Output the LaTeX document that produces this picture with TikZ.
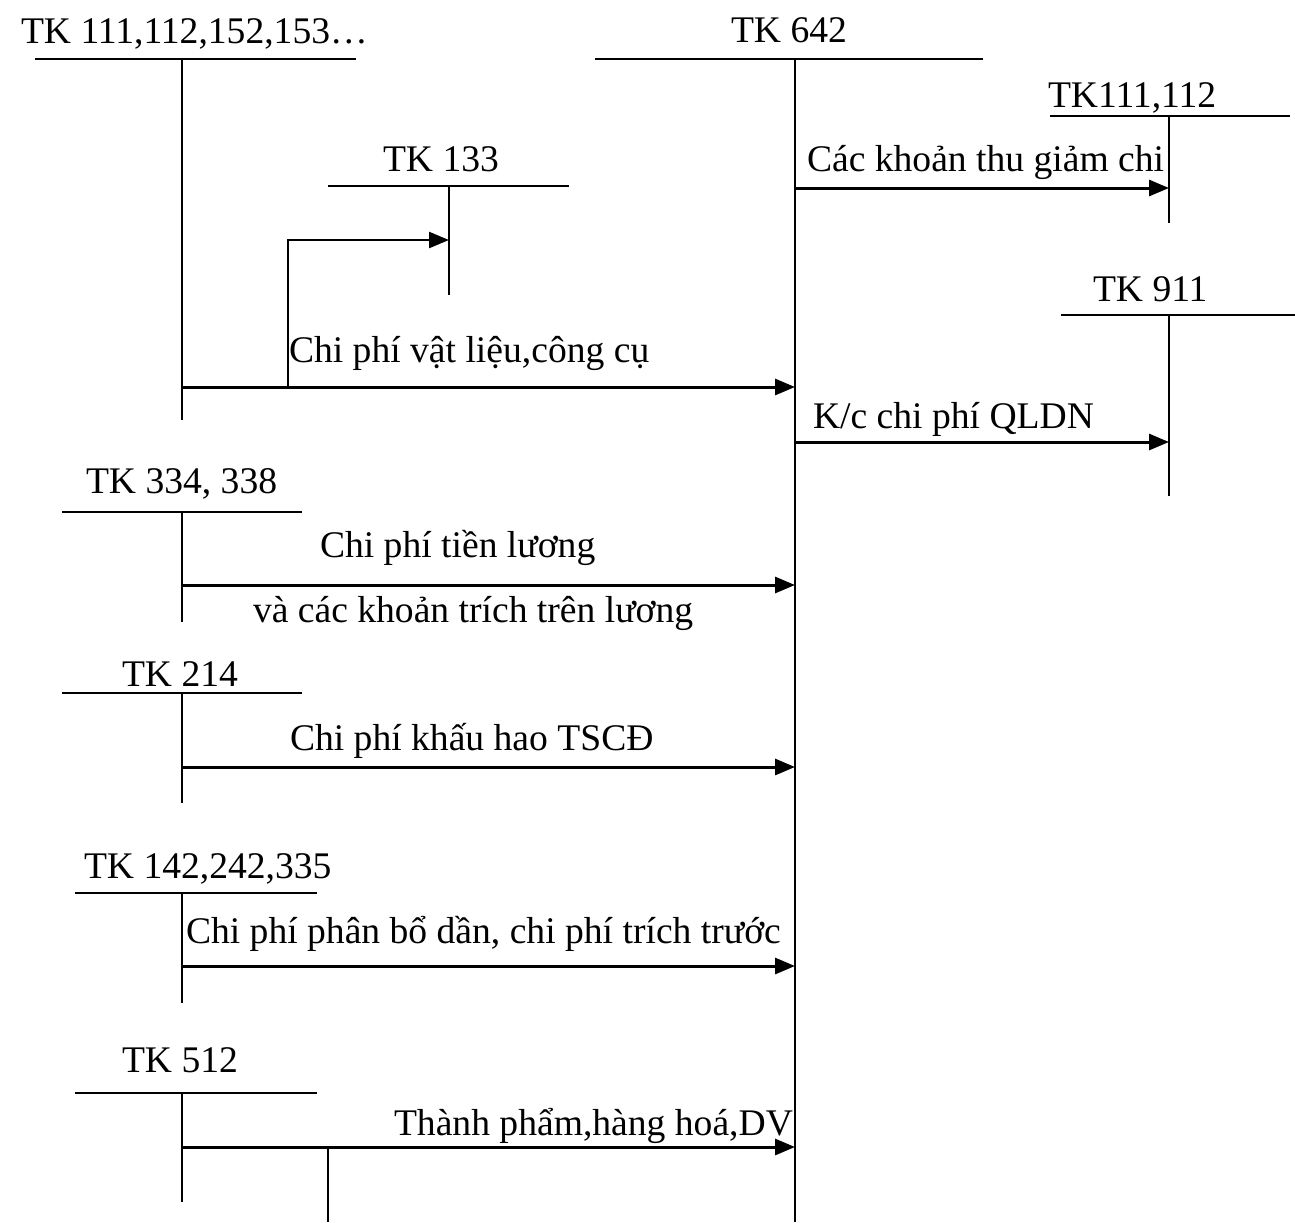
\documentclass[tikz,border=0pt]{standalone}
\usepackage{fontspec}
\setmainfont{Liberation Serif}
\usetikzlibrary{arrows.meta}
\tikzset{
  acct/.style={line width=1.2pt},
  flow/.style={line width=1.5pt,-{Triangle[length=10pt,width=8pt]}},
  lbl/.style={inner sep=0pt,outer sep=0pt,anchor=base west,font=\fontsize{18.8}{23}\selectfont}
}
\begin{document}
\begin{tikzpicture}[x=0.5pt,y=-0.5pt]
\useasboundingbox (0,0) rectangle (1295,1222);
% ---- account headings
\node[lbl] (t111) at (21,43) {TK 111,112,152,153…};
\node[lbl] (t642) at (731,42) {TK 642};
\node[lbl] (t111b) at (1048,107) {TK111,112};
\node[lbl] (t133) at (383,171) {TK 133};
\node[lbl] (t911) at (1093,301) {TK 911};
\node[lbl] (t334) at (86,493) {TK 334, 338};
\node[lbl] (t214) at (122,686) {TK 214};
\node[lbl] (t142) at (84,878) {TK 142,242,335};
\node[lbl] (t512) at (122,1072) {TK 512};
% ---- flow labels
\node[lbl] (l1) at (807,171) {Các khoản thu giảm chi};
\node[lbl] (l2) at (289,362) {Chi phí vật liệu,công cụ};
\node[lbl] (l3) at (813,428) {K/c chi phí QLDN};
\node[lbl] (l4) at (320,557) {Chi phí tiền lương};
\node[lbl] (l5) at (253,622) {và các khoản trích trên lương};
\node[lbl] (l6) at (290,750) {Chi phí khấu hao TSCĐ};
\node[lbl] (l7) at (186,943) {Chi phí phân bổ dần, chi phí trích trước};
\node[lbl] (l8) at (394,1135) {Thành phẩm,hàng hoá,DV};
% ---- T-account coordinates
\coordinate (a111) at (182,59);   \coordinate (a111e) at (182,420);
\coordinate (a642) at (795,59);   \coordinate (a642e) at (795,1222);
\coordinate (a111b) at (1169,116);\coordinate (a111be) at (1169,223);
\coordinate (a133) at (449,186);  \coordinate (a133e) at (449,295);
\coordinate (a911) at (1169,315); \coordinate (a911e) at (1169,496);
\coordinate (a334) at (182,512);  \coordinate (a334e) at (182,622);
\coordinate (a214) at (182,693);  \coordinate (a214e) at (182,803);
\coordinate (a142) at (182,893);  \coordinate (a142e) at (182,1003);
\coordinate (a512) at (182,1093); \coordinate (a512e) at (182,1202);
% ---- T-accounts
\draw[acct] (35,59) -- (356,59);   \draw[acct] (a111) -- (a111e);
\draw[acct] (595,59) -- (983,59);  \draw[acct] (a642) -- (a642e);
\draw[acct] (1050,116) -- (1290,116); \draw[acct] (a111b) -- (a111be);
\draw[acct] (328,186) -- (569,186); \draw[acct] (a133) -- (a133e);
\draw[acct] (1061,315) -- (1295,315); \draw[acct] (a911) -- (a911e);
\draw[acct] (62,512) -- (302,512); \draw[acct] (a334) -- (a334e);
\draw[acct] (62,693) -- (302,693); \draw[acct] (a214) -- (a214e);
\draw[acct] (75,893) -- (317,893); \draw[acct] (a142) -- (a142e);
\draw[acct] (75,1093) -- (317,1093); \draw[acct] (a512) -- (a512e);
% ---- flows
\coordinate (f1s) at (795,188);  \coordinate (f1e) at (1169,188);
\draw[flow] (f1s) -- (f1e);
\coordinate (f2s) at (182,387);  \coordinate (f2e) at (795,387);
\draw[flow] (f2s) -- (f2e);
\coordinate (eb) at (288,387);   \coordinate (ebe) at (449,240);
\draw[flow,line width=1.2pt] (eb) |- (ebe);
\coordinate (f3s) at (795,442);  \coordinate (f3e) at (1169,442);
\draw[flow] (f3s) -- (f3e);
\coordinate (f4s) at (182,585);  \coordinate (f4e) at (795,585);
\draw[flow] (f4s) -- (f4e);
\coordinate (f5s) at (182,767);  \coordinate (f5e) at (795,767);
\draw[flow] (f5s) -- (f5e);
\coordinate (f6s) at (182,966);  \coordinate (f6e) at (795,966);
\draw[flow] (f6s) -- (f6e);
\coordinate (f7s) at (182,1147); \coordinate (f7e) at (795,1147);
\draw[flow] (f7s) -- (f7e);
\coordinate (br) at (328,1147);  \coordinate (bre) at (328,1222);
\draw[acct] (br) -- (bre);
\end{tikzpicture}
\end{document}
